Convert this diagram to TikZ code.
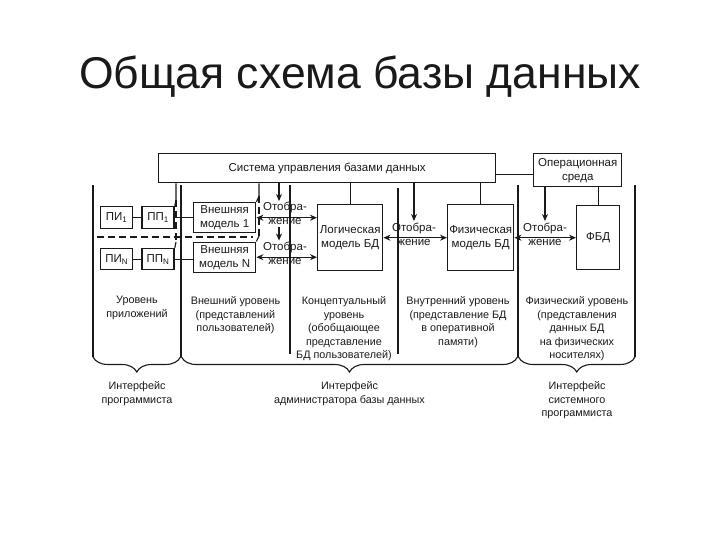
\documentclass[tikz,border=0pt]{standalone}
\usepackage{fontspec}
\setmainfont{Liberation Sans}
\usepackage{tikz}
\usetikzlibrary{positioning, arrows.meta, decorations.pathreplacing}
\definecolor{ink}{HTML}{1a1a1a}
\newcommand{\dgfont}{\fontsize{11.5}{14}\selectfont}
\newcommand{\lvfont}{\fontsize{10.8}{13.5}\selectfont}

\begin{document}
\begin{tikzpicture}[x=1pt, y=-1pt, color=ink, line width=1.1pt,
blk/.style={draw, line width=1.4pt, align=center, inner sep=1pt, font=\dgfont, anchor=north west},
otb/.style={align=center, inner sep=1pt, font=\dgfont, anchor=base},
lvl/.style={align=center, inner sep=0pt, font=\lvfont, anchor=north},
dsh/.style={dash pattern=on 7pt off 4pt},
ar/.style={-{Stealth[length=7pt, width=6pt]}},
dar/.style={{Stealth[length=7pt, width=6pt]}-{Stealth[length=7pt, width=6pt]}},
brc/.style={decorate, decoration={brace, mirror, amplitude=15pt}}]
\path[fill=white, use as bounding box] (0,0) rectangle (720,540);
\node[font=\fontsize{44.5}{50}\selectfont, anchor=base] (title) at (360,89) {Общая схема базы данных};
% upper row of boxes
\node[blk, minimum width=337pt, minimum height=29pt] (dbms) at (158,153) {Система управления базами данных};
\node[blk, minimum width=88pt, minimum height=33pt] (os) at (533,153) {Операционная\\среда};
\node[blk, minimum width=32pt, minimum height=22pt] (pi1) at (100,206) {ПИ\textsubscript{1}};
\node[blk, minimum width=32pt, minimum height=22pt, right=8pt of pi1] (pp1) {ПП\textsubscript{1}};
\node[blk, minimum width=32pt, minimum height=21pt] (pin) at (100,248) {ПИ\textsubscript{N}};
\node[blk, minimum width=32pt, minimum height=21pt, right=8pt of pin] (ppn) {ПП\textsubscript{N}};
\node[blk, minimum width=62pt, minimum height=30pt] (vm1) at (193,202) {Внешняя\\модель 1};
\node[blk, minimum width=62pt, minimum height=30pt] (vmn) at (193,241.5) {Внешняя\\модель N};
\node[blk, minimum width=65pt, minimum height=66pt] (lm) at (317,204) {Логическая\\модель БД};
\node[blk, minimum width=66pt, minimum height=66pt] (fm) at (447,204) {Физическая\\модель БД};
\node[blk, minimum width=43pt, minimum height=64pt] (fbd) at (576,205) {ФБД};
% mapping labels
\node[otb] (otb1) at (285,225) {Отобра-\\жение};
\node[otb] (otbn) at (285,264.5) {Отобра-\\жение};
\node[otb] (otbl) at (414,245) {Отобра-\\жение};
\node[otb] (otbp) at (545,245) {Отобра-\\жение};
% connectors
\draw ([yshift=-4pt]os.west) -- ([yshift=-4pt]os.west -| dbms.east);
\draw (pi1) -- (pp1);
\draw (pp1) -- (vm1);
\draw (pin) -- (ppn);
\draw (ppn.east) -- (ppn.east -| vmn.west);
\draw (lm.north) -- (lm.north |- dbms.south);
\draw (fm.north) -- (fm.north |- dbms.south);
\draw (fbd.north) -- (fbd.north |- os.south);
\coordinate (busp) at (176,200);
\coordinate (buspn) at (176,242);
\coordinate (busv) at (259,196);
\coordinate (busvn) at (259,236);
\draw (dbms.south -| busp) -- (busp) -- (pp1.north east);
\draw[dsh] (busp) -- (buspn);
\draw (buspn) -- (ppn.north east);
\draw (dbms.south -| busv) -- (busv) -- (vm1.north east);
\draw[dsh] (busv) -- (busvn);
\draw (busvn) -- (vmn.north east);
\draw[dsh] (97,237) -- (253,237);
\draw[ar] ([xshift=-6pt]otb1.north |- dbms.south) -- ([xshift=-6pt]otb1.north);
\draw[ar] ([xshift=-6pt]otb1.south) -- ([xshift=-6pt]otbn.north);
\draw[ar] (otbl.north |- dbms.south) -- (otbl.north);
\draw[ar] (otbp.north |- os.south) -- (otbp.north);
\draw[dar] (vm1.east) -- (vm1.east -| lm.west);
\draw[dar] (vmn.east) -- (vmn.east -| lm.west);
\draw[dar] (lm) -- (fm);
\draw[dar] (fm) -- (fbd);
% levels
\foreach \x/\t/\b in {93/185/357, 181/185/357, 290/185/354, 398/188/354, 518/185/357, 635/185/357}
  \draw (\x,\t) -- (\x,\b);
\node[lvl] (lapp) at (137,296) {Уровень\\приложений};
\node[lvl] (lext) at (235.5,296) {Внешний уровень\\(представлений\\пользователей)};
\node[lvl] (lcon) at (344,296) {Концептуальный\\уровень\\(обобщающее\\представление\\БД пользователей)};
\node[lvl] (lint) at (458,296) {Внутренний уровень\\(представление БД\\в оперативной\\памяти)};
\node[lvl] (lphy) at (577,296) {Физический уровень\\(представления\\данных БД\\на физических\\носителях)};
% interfaces
\draw[brc] (93,357) -- (180.5,357);
\draw[brc] (181.5,357) -- (517.5,357);
\draw[brc] (518.5,357) -- (635,357);
\node[lvl] (iprog) at (137,381) {Интерфейс\\программиста};
\node[lvl] (iadm) at (349.5,381) {Интерфейс\\администратора базы данных};
\node[lvl] (isys) at (577,381) {Интерфейс\\системного\\программиста};
\end{tikzpicture}
\end{document}
